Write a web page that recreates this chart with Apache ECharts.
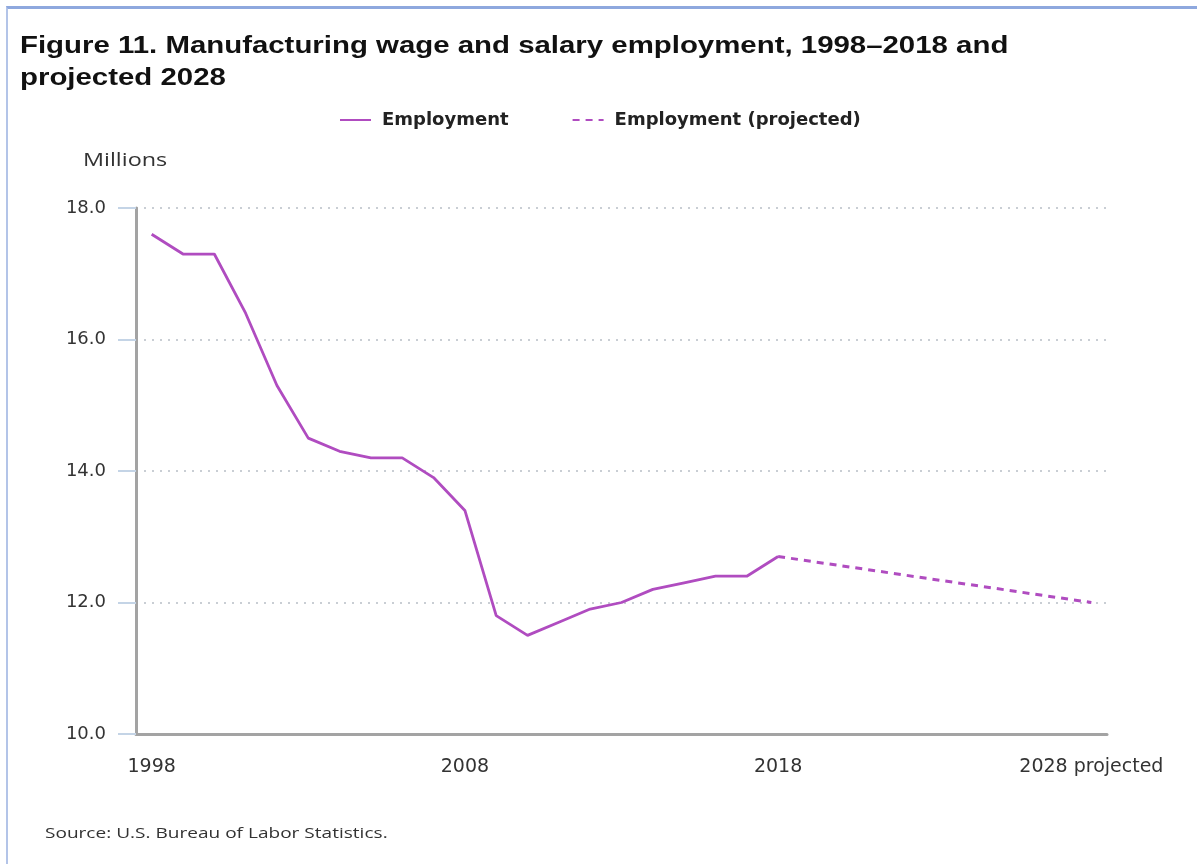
<!DOCTYPE html>
<html>
<head>
<meta charset="utf-8">
<script src="https://cdn.jsdelivr.net/npm/echarts@6/dist/echarts.min.js"></script>
<style>
  html, body { margin: 0; padding: 0; background: #fff; }
  #frame { position: absolute; left: 6px; top: 6px; width: 1191px; height: 858px;
           border-top: 3px solid #8ea8de; border-left: 2px solid #b3c4e8; box-sizing: border-box; }
  #chart { position: absolute; left: 0; top: 0; width: 1197px; height: 864px; }
</style>
</head>
<body>
<div id="frame"></div>
<div id="chart"></div>
<script>
// Years on the category axis, 1998 through the 2028 projection year
const years = ['1998','1999','2000','2001','2002','2003','2004','2005','2006','2007',
               '2008','2009','2010','2011','2012','2013','2014','2015','2016','2017',
               '2018','2019','2020','2021','2022','2023','2024','2025','2026','2027','2028'];

// Manufacturing wage and salary employment, millions (1998–2018)
const employment = [17.6, 17.3, 17.3, 16.4, 15.3, 14.5, 14.3, 14.2, 14.2, 13.9,
                    13.4, 11.8, 11.5, 11.7, 11.9, 12.0, 12.2, 12.3, 12.4, 12.4,
                    12.7];

// Projection: 2018 base year and 2028 projected value
const projectedYears = ['2018', '2028'];
const projectedValues = [12.7, 12.0];

const yTicks = { min: 10, max: 18, step: 2 };

const purple = '#b04cc0';

const actualSeries = years.map((y, i) => (i < employment.length ? employment[i] : null));
const projectedSeries = years.map(y => {
  const k = projectedYears.indexOf(y);
  return k >= 0 ? projectedValues[k] : null;
});

const chart = echarts.init(document.getElementById('chart'));
chart.setOption({
  backgroundColor: 'transparent',
  animation: false,
  legend: {
    top: 106, left: 334,
    itemWidth: 31, itemHeight: 12, itemGap: 63,
    itemStyle: { opacity: 0 },
    textStyle: { fontFamily: 'DejaVu Sans', fontWeight: 'bold', fontSize: 18, color: '#222', padding: [0, 0, 0, 6] },
    data: ['Employment', 'Employment (projected)']
  },
  graphic: [
    { type: 'text', x: 20, y: 31, scaleX: 1.278,
      style: { text: 'Figure 11. Manufacturing wage and salary employment, 1998\u20132018 and\nprojected 2028',
               font: 'bold 23px "Liberation Sans"', lineHeight: 32, fill: '#111' } },
    { type: 'text', x: 83, y: 152, scaleX: 1.3,
      style: { text: 'Millions', font: '18px "Open Sans"', fill: '#333' } },
    { type: 'text', x: 45, y: 826, scaleX: 1.27,
      style: { text: 'Source: U.S. Bureau of Labor Statistics.', font: '15px "Open Sans"', fill: '#333' } }
  ],
  grid: { left: 136, right: 90, top: 208, bottom: 130 },
  xAxis: {
    type: 'category',
    data: years,
    boundaryGap: true,
    axisLine: { lineStyle: { color: '#a3a3a3', width: 3 } },
    axisTick: { alignWithLabel: true, interval: 0, length: 18, lineStyle: { color: '#c4d4e6', width: 2 } },
    axisLabel: {
      interval: 9, margin: 24,
      fontFamily: 'DejaVu Sans', fontSize: 19, color: '#333',
      formatter: v => (v === '2028' ? '2028 projected' : v)
    }
  },
  yAxis: {
    type: 'value',
    min: yTicks.min, max: yTicks.max, interval: yTicks.step,
    axisLine: { show: true, lineStyle: { color: '#a3a3a3', width: 3 } },
    axisTick: { show: true, length: 18, lineStyle: { color: '#c4d4e6', width: 2 } },
    axisLabel: {
      margin: 30, fontFamily: 'DejaVu Sans', fontSize: 18, color: '#333',
      formatter: v => v.toFixed(1)
    },
    splitLine: { show: true, lineStyle: { color: '#c9ced4', width: 2, type: [2, 6] } }
  },
  series: [
    {
      name: 'Employment', type: 'line', data: actualSeries,
      symbol: 'none', lineStyle: { color: purple, width: 2.8 },
      itemStyle: { color: purple }
    },
    {
      name: 'Employment (projected)', type: 'line', data: projectedSeries,
      connectNulls: true, symbol: 'none',
      lineStyle: { color: purple, width: 3, type: [7, 6] },
      itemStyle: { color: purple }
    }
  ]
});
</script>
</body>
</html>
